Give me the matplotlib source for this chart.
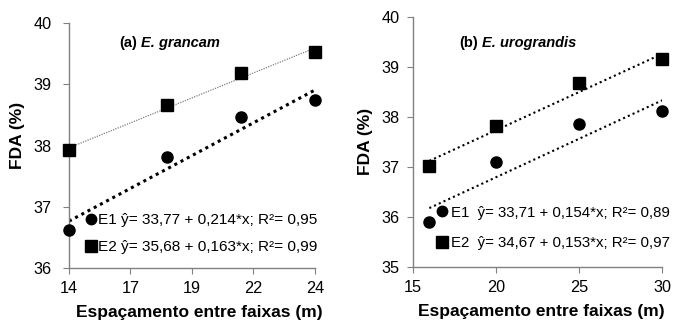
import numpy as np
import matplotlib.pyplot as plt
from matplotlib.lines import Line2D

plt.rcParams['font.family'] = ['Liberation Sans', 'DejaVu Sans']

# (a) E. grancam
x_a = [14, 18, 21, 24]
e1_a = [36.62, 37.82, 38.46, 38.75]
e2_a = [37.92, 38.66, 39.19, 39.53]
coef_a = {"E1": (33.77, 0.214), "E2": (35.68, 0.163)}
lab_a = ["E1 ŷ= 33,77 + 0,214*x; R²= 0,95", "E2 ŷ= 35,68 + 0,163*x; R²= 0,99"]
xt_a = [14, 16.5, 19, 21.5, 24]
xtl_a = ["14", "17", "19", "22", "24"]

# (b) E. urograndis
x_b = [16, 20, 25, 30]
e1_b = [35.90, 37.09, 37.85, 38.12]
e2_b = [37.02, 37.82, 38.68, 39.15]
coef_b = {"E1": (33.71, 0.154), "E2": (34.67, 0.153)}
lab_b = ["E1  ŷ= 33,71 + 0,154*x; R²= 0,89", "E2  ŷ= 34,67 + 0,153*x; R²= 0,97"]

fig = plt.figure(figsize=(6.79, 3.23), dpi=100)
ax1 = fig.add_axes([0.1016, 0.170, 0.3623, 0.759])
ax2 = fig.add_axes([0.6078, 0.174, 0.3676, 0.774])

def style(ax, xl, yl, ypad):
    for s in ["top", "right"]:
        ax.spines[s].set_visible(False)
    for s in ["left", "bottom"]:
        ax.spines[s].set_color("#808080")
        ax.spines[s].set_linewidth(1.0)
    ax.tick_params(direction="out", length=4.5, color="#808080", labelsize=11.7, pad=5)
    ax.tick_params(axis="y", pad=ypad)
    ax.set_ylabel("FDA (%)", fontsize=12.5, fontweight="bold", va="center")
    ax.set_xlabel("Espaçamento entre faixas (m)", fontsize=12.5, fontweight="bold", va="center")
    ax.xaxis.set_label_coords(*xl)
    ax.yaxis.set_label_coords(*yl)

def title(ax, x, y, tag, name):
    t1 = ax.text(x, y, tag, transform=ax.transAxes, fontsize=10.5, fontweight="bold", va="center")
    ax.annotate(name, xy=(1, 0), xycoords=t1, xytext=(3, 0), textcoords="offset points",
                fontsize=10.5, fontweight="bold", style="italic", va="bottom")

# panel a
xx = np.array([x_a[0], x_a[-1]])
b0, b1 = coef_a["E1"]
ax1.plot(xx, b0 + b1 * xx, color="black", lw=2.2, ls=(0, (1, 1.3)), zorder=2)
b0, b1 = coef_a["E2"]
ax1.plot(xx, b0 + b1 * xx, color="#7f7f7f", lw=0.9, ls=(0, (1, 1)), zorder=2)
ax1.plot(x_a, e1_a, "o", color="black", ms=8, zorder=3, clip_on=False)
ax1.plot(x_a, e2_a, "s", color="black", ms=8.5, zorder=3, clip_on=False)
ax1.set_xlim(14, 24)
ax1.set_ylim(36, 40)
ax1.set_xticks(xt_a)
ax1.set_xticklabels(xtl_a)
ax1.set_yticks([36, 37, 38, 39, 40])
style(ax1, (0.53, -0.183), (-0.21, 0.54), 8)
title(ax1, 0.203, 0.917, "(a)", "E. grancam")
h = [Line2D([], [], ls="none", marker="o", color="black", ms=7.5),
     Line2D([], [], ls="none", marker="s", color="black", ms=8)]
ax1.legend(h, lab_a, loc="center left", bbox_to_anchor=(0.066, 0.141), frameon=False,
           fontsize=11.1, handlelength=0.8, handletextpad=0.05, labelspacing=0.85,
           borderaxespad=0, borderpad=0)

# panel b
xx = np.array([x_b[0], x_b[-1]])
b0, b1 = coef_b["E1"]
ax2.plot(xx, b0 + b1 * xx, color="black", lw=1.5, ls=(0, (1, 1.5)), zorder=2)
b0, b1 = coef_b["E2"]
ax2.plot(xx, b0 + b1 * xx, color="black", lw=1.5, ls=(0, (1, 1.5)), zorder=2)
ax2.plot(x_b, e1_b, "o", color="black", ms=8, zorder=3, clip_on=False)
ax2.plot(x_b, e2_b, "s", color="black", ms=8.5, zorder=3, clip_on=False)
ax2.set_xlim(15, 30)
ax2.set_ylim(35, 40)
ax2.set_xticks([15, 20, 25, 30])
ax2.set_yticks([35, 36, 37, 38, 39, 40])
style(ax2, (0.517, -0.18), (-0.19, 0.5), 5)
title(ax2, 0.186, 0.894, "(b)", "E. urograndis")
ax2.legend(h, lab_b, loc="center left", bbox_to_anchor=(0.093, 0.156), frameon=False,
           fontsize=10.8, handlelength=0.8, handletextpad=0.2, labelspacing=1.1,
           borderaxespad=0, borderpad=0)

fig.savefig("out.png", dpi=100)
